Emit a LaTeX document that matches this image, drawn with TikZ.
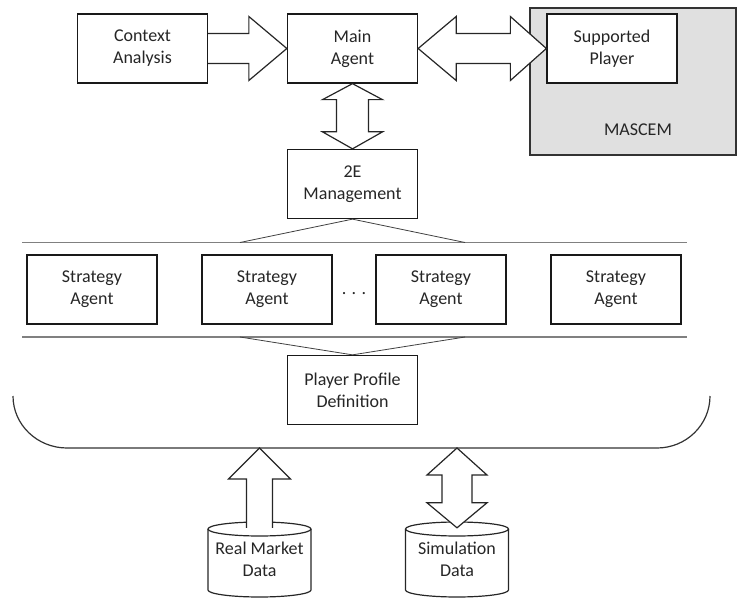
\documentclass[tikz,border=0pt]{standalone}
\usepackage{fontspec}
\setmainfont{Carlito}
\usetikzlibrary{calc}

% cylinder outline around a named text node
\newcommand\drawcyl[1]{%
  \begin{scope}[shift={(#1.center)}]
    \draw[cyl] (-51.5,-30.5) -- (-51.5,30.5)
      arc[start angle=180, end angle=0, x radius=51.5, y radius=7] -- (51.5,-30.5);
    \draw[cyl] (0,-30.5) ellipse[x radius=51.5, y radius=7];
  \end{scope}}

\begin{document}
\begin{tikzpicture}[x=1pt, y=-1pt,
  txt/.style={font=\fontsize{18}{22}\selectfont, align=center, text=black!85},
  box/.style={txt, draw=black!90, line width=1.3pt, fill=white,
    minimum width=130, minimum height=69, inner sep=0pt},
  mascembox/.style={draw=black!80, line width=1.2pt, fill=black!12},
  blockarrow/.style={draw=black!85, line width=1.2pt, fill=white, line join=miter},
  sepline/.style={draw=black!50, line width=1.4pt},
  thinline/.style={draw=black!75, line width=0.8pt},
  brk/.style={draw=black!80, line width=1.2pt},
  cyl/.style={draw=black!85, line width=1.2pt},
  cyltext/.style={txt, minimum width=103, minimum height=75, inner sep=0pt}]

\useasboundingbox (0,0) rectangle (737,599);

% MASCEM environment
\node[mascembox, minimum width=206, minimum height=147, inner sep=0pt] (mascem) at (633,81.5) {};
\node[txt] (mascemlbl) at (638,130) {MASCEM};

% top row
\node[box] (ctx)  at (142.5,48.5) {Context\\Analysis};
\node[box] (main) at (352.5,48.5) {Main\\Agent};
\node[box] (sup)  at (612,48.5)   {Supported\\Player};
\node[box] (mgmt) at (352.5,184)  {2E\\Management};

% strategy agents
\node[box] (sa1) at (92,289.5)  {Strategy\\Agent};
\node[box] (sa2) at (267,289.5) {Strategy\\Agent};
\node[box] (sa3) at (441,289.5) {Strategy\\Agent};
\node[box] (sa4) at (616,289.5) {Strategy\\Agent};
\node[txt, anchor=base, inner sep=0pt] (dots) at (354,294) {. . .};

\node[box] (ppd) at (352.5,390) {Player Profile\\Definition};

% data stores
\node[cyltext] (rmd) at (259.5,559.5) {Real Market\\Data};
\node[cyltext] (smd) at (457,559.5)   {Simulation\\Data};
\drawcyl{rmd}
\drawcyl{smd}

% separator lines and links
\coordinate (tl) at (22,242.5);  \coordinate (tr) at (687,242.5);
\coordinate (bl) at (22,337);    \coordinate (br) at (687,337);
\coordinate (tfl) at (240,242.5); \coordinate (tfr) at (465,242.5);
\coordinate (bfl) at (240,337);   \coordinate (bfr) at (465,337);
\draw[sepline] (tl) -- (tr);
\draw[sepline] (bl) -- (br);
\draw[thinline] (tfl) -- (mgmt.south) -- (tfr);
\draw[thinline] (bfl) -- (ppd.north) -- (bfr);

% bracket under the profile block
\coordinate (ktl) at (13,396);  \coordinate (kbl) at (67,448);
\coordinate (kbr) at (657,448); \coordinate (ktr) at (710,396);
\draw[brk] (ktl) .. controls ($(ktl)+(0,28.7)$) and ($(kbl)+(-29.8,0)$) .. (kbl)
  -- (kbr) .. controls ($(kbr)+(29.3,0)$) and ($(ktr)+(0,28.7)$) .. (ktr);

% block arrows
\draw[blockarrow] ($(ctx.east)+(0,-15)$) -- ($(main.west)+(-38,-15)$)
  -- ($(main.west)+(-38,-32)$) -- (main.west) -- ($(main.west)+(-38,32)$)
  -- ($(main.west)+(-38,15)$) -- ($(ctx.east)+(0,15)$);

\draw[blockarrow] (main.east) -- ($(main.east)+(38,-32)$) -- ($(main.east)+(38,-15)$)
  -- ($(sup.west)+(-36,-15)$) -- ($(sup.west)+(-36,-32)$) -- (sup.west)
  -- ($(sup.west)+(-36,32)$) -- ($(sup.west)+(-36,15)$)
  -- ($(main.east)+(38,15)$) -- ($(main.east)+(38,32)$) -- cycle;

\draw[blockarrow] (main.south) -- ($(main.south)+(30,16)$) -- ($(main.south)+(16,16)$)
  -- ($(mgmt.north)+(16,-17)$) -- ($(mgmt.north)+(30,-17)$) -- (mgmt.north)
  -- ($(mgmt.north)+(-30,-17)$) -- ($(mgmt.north)+(-16,-17)$)
  -- ($(main.south)+(-16,16)$) -- ($(main.south)+(-30,16)$) -- cycle;

\coordinate (rtip) at (rmd.north |- kbl);
\draw[blockarrow] ($(rmd.north)+(-13,6)$) -- ($(rtip)+(-13,31)$) -- ($(rtip)+(-31,31)$)
  -- (rtip) -- ($(rtip)+(31,31)$) -- ($(rtip)+(13,31)$) -- ($(rmd.north)+(13,6)$);

\coordinate (stip) at (smd.north |- kbl);
\coordinate (sbot) at ($(smd.north)+(0,6)$);
\draw[blockarrow] (stip) -- ($(stip)+(30,27)$) -- ($(stip)+(15,27)$)
  -- ($(sbot)+(15,-25)$) -- ($(sbot)+(30,-25)$) -- (sbot)
  -- ($(sbot)+(-30,-25)$) -- ($(sbot)+(-15,-25)$)
  -- ($(stip)+(-15,27)$) -- ($(stip)+(-30,27)$) -- cycle;

\end{tikzpicture}
\end{document}
